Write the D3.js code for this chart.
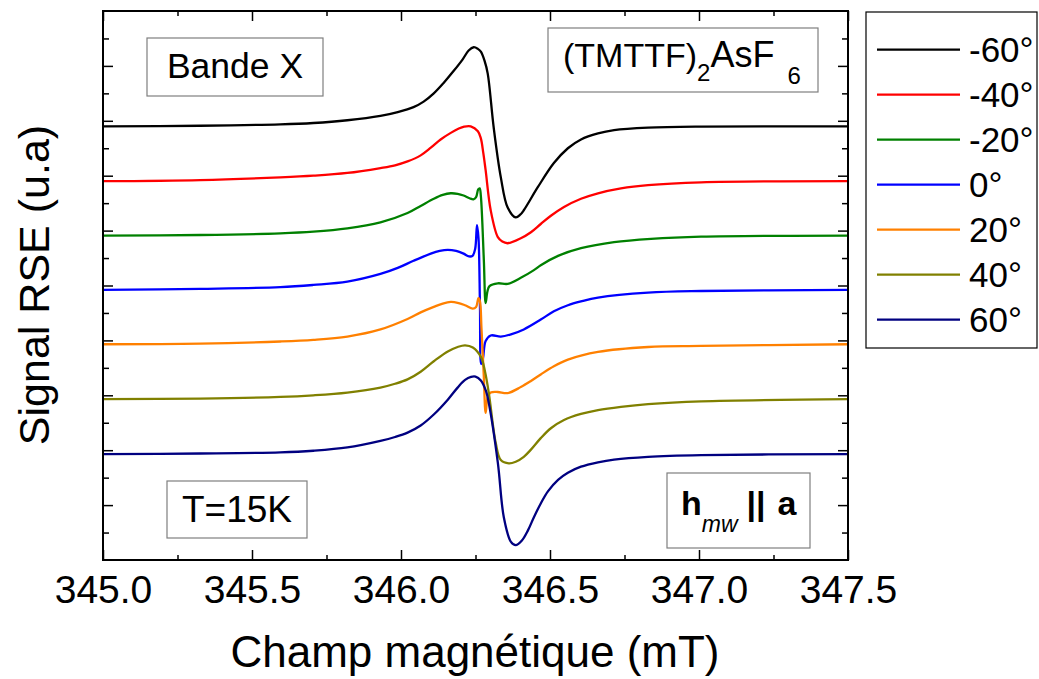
<!DOCTYPE html>
<html>
<head>
<meta charset="utf-8">
<script src="https://cdn.jsdelivr.net/npm/d3@7"></script>
<style>
    body { margin: 0; background: #fff; }
    text { font-family: "Liberation Sans", Arial, sans-serif; fill: #000; }
    .box { fill: #fff; stroke: #7f7f7f; stroke-width: 1.2; }
    .tick line { stroke: #000; stroke-width: 1.5; }
</style>
</head>
<body>
<script>
//angle labels of the series (legend order)
var angles = ["-60°", "-40°", "-20°", "0°", "20°", "40°", "60°"];
var colors = ["#000000", "#ff0000", "#008000", "#0000ff", "#ff8000", "#808000", "#000080"];
//vertical offset of each spectrum (u.a)
var offsets = [7.90, 6.90, 5.91, 4.92, 3.93, 2.93, 1.93];

//x ticks (mT)
var xTicks = [345.0, 345.5, 346.0, 346.5, 347.0, 347.5];

//spectra: [champ (mT), signal relative to baseline]
var sigM60 = [[345.000, 0], [345.326, 0.01], [345.595, 0.035], [345.706, 0.06], [345.820, 0.11],
    [345.931, 0.19], [345.989, 0.26], [346.042, 0.35], [346.076, 0.45], [346.110, 0.60],
    [346.143, 0.79], [346.177, 1.01], [346.207, 1.22], [346.227, 1.38], [346.244, 1.44],
    [346.258, 1.41], [346.268, 1.36], [346.280, 1.20], [346.291, 0.96], [346.311, -0.02],
    [346.335, -0.93], [346.358, -1.48], [346.385, -1.66], [346.400, -1.61], [346.412, -1.53],
    [346.459, -1.11], [346.513, -0.67], [346.560, -0.40], [346.604, -0.24], [346.661, -0.13],
    [346.715, -0.07], [346.829, -0.025], [347.007, -0.005], [347.500, 0]];
var sigM40 = [[345.000, 0], [345.326, 0.02], [345.595, 0.07], [345.706, 0.10], [345.820, 0.15],
    [345.931, 0.24], [345.980, 0.29], [346.022, 0.36], [346.066, 0.47], [346.100, 0.61],
    [346.133, 0.76], [346.167, 0.88], [346.194, 0.96], [346.212, 0.995], [346.234, 1.00],
    [346.258, 0.91], [346.268, 0.78], [346.276, 0.52], [346.284, 0.20], [346.301, -0.53],
    [346.325, -1.02], [346.340, -1.10], [346.358, -1.13], [346.402, -1.04], [346.436, -0.93],
    [346.469, -0.78], [346.503, -0.63], [346.547, -0.47], [346.604, -0.32], [346.661, -0.22],
    [346.738, -0.13], [346.829, -0.07], [347.007, -0.02], [347.500, 0]];
var sigM20 = [[345.000, 0], [345.326, 0.01], [345.595, 0.04], [345.706, 0.07], [345.820, 0.13],
    [345.931, 0.24], [346.022, 0.41], [346.066, 0.54], [346.110, 0.67], [346.140, 0.74],
    [346.167, 0.77], [346.190, 0.76], [346.210, 0.73], [346.230, 0.68], [346.243, 0.66],
    [346.252, 0.70], [346.259, 0.84], [346.264, 0.86], [346.268, 0.72], [346.278, -0.45],
    [346.284, -1.23], [346.290, -1.02], [346.297, -0.92], [346.325, -0.87], [346.358, -0.88],
    [346.402, -0.77], [346.446, -0.63], [346.469, -0.54], [346.527, -0.37], [346.604, -0.23],
    [346.715, -0.12], [346.839, -0.06], [347.007, -0.02], [347.500, 0]];
var sig0 = [[345.000, 0], [345.326, 0.02], [345.595, 0.05], [345.706, 0.09], [345.820, 0.15],
    [345.931, 0.29], [345.989, 0.40], [346.042, 0.53], [346.100, 0.66], [346.130, 0.71],
    [346.157, 0.73], [346.185, 0.71], [346.210, 0.66], [346.228, 0.61], [346.240, 0.62],
    [346.249, 0.75], [346.255, 1.18], [346.260, 0.95], [346.265, -0.30], [346.269, -1.35],
    [346.275, -1.25], [346.284, -0.93], [346.301, -0.83], [346.335, -0.85], [346.369, -0.81],
    [346.412, -0.72], [346.469, -0.54], [346.513, -0.39], [346.560, -0.28], [346.604, -0.21],
    [346.661, -0.14], [346.829, -0.05], [347.007, -0.02], [347.500, 0]];
var sigP20 = [[345.000, 0], [345.326, 0.01], [345.595, 0.05], [345.706, 0.08], [345.820, 0.14],
    [345.931, 0.27], [346.022, 0.46], [346.066, 0.58], [346.110, 0.68], [346.140, 0.74],
    [346.167, 0.77], [346.190, 0.755], [346.215, 0.71], [346.241, 0.65], [346.252, 0.68],
    [346.260, 0.84], [346.265, 0.78], [346.270, 0.30], [346.278, -0.60], [346.284, -1.25],
    [346.291, -0.96], [346.301, -0.88], [346.325, -0.87], [346.358, -0.89], [346.402, -0.78],
    [346.436, -0.67], [346.469, -0.55], [346.513, -0.40], [346.560, -0.28], [346.661, -0.14],
    [346.829, -0.05], [347.007, -0.03], [347.500, 0]];
var sigP40 = [[345.000, 0], [345.326, 0.01], [345.595, 0.04], [345.706, 0.07], [345.820, 0.12],
    [345.931, 0.21], [345.980, 0.28], [346.022, 0.36], [346.066, 0.50], [346.110, 0.69],
    [346.157, 0.87], [346.190, 0.95], [346.215, 0.98], [346.241, 0.94], [346.268, 0.77],
    [346.282, 0.50], [346.295, 0.10], [346.318, -0.80], [346.335, -1.11], [346.362, -1.17],
    [346.385, -1.14], [346.412, -1.05], [346.436, -0.92], [346.469, -0.71], [346.503, -0.53],
    [346.547, -0.38], [346.604, -0.27], [346.661, -0.20], [346.738, -0.14], [346.829, -0.09],
    [347.007, -0.04], [347.500, 0]];
var sigP60 = [[345.000, 0], [345.326, 0.01], [345.595, 0.03], [345.706, 0.06], [345.820, 0.12],
    [345.931, 0.24], [345.980, 0.31], [346.022, 0.39], [346.066, 0.52], [346.110, 0.72],
    [346.157, 0.99], [346.190, 1.21], [346.215, 1.35], [346.235, 1.405], [346.250, 1.41],
    [346.268, 1.34], [346.285, 1.15], [346.295, 0.92], [346.325, -0.16], [346.345, -1.15],
    [346.369, -1.60], [346.385, -1.66], [346.405, -1.58], [346.426, -1.39], [346.446, -1.15],
    [346.469, -0.90], [346.493, -0.68], [346.527, -0.47], [346.560, -0.34], [346.604, -0.23],
    [346.661, -0.15], [346.715, -0.10], [346.829, -0.05], [347.007, -0.02], [347.500, 0]];

var spectra = [sigM60, sigM40, sigM20, sig0, sigP20, sigP40, sigP60];

window.onload = drawChart();

function drawChart(){
    var width = 1039,
        height = 679;

    var svg = d3.select("body")
        .append("svg")
        .attr("width", width)
        .attr("height", height);

    //plot frame
    var left = 103, right = 848, top = 11, bottom = 560;

    var x = d3.scaleLinear()
        .domain([345.0, 347.5])
        .range([left, right]);
    var y = d3.scaleLinear()
        .domain([0, 10])
        .range([bottom, top]);

    //minor tick positions
    var xMinor = xTicks.slice(0, -1).map(function(d){ return d + 0.25; });
    var yMajor = d3.range(1, 10);
    var yMinor = d3.range(0, 10).map(function(d){ return d + 0.5; });

    //bottom axis with labels, ticks pointing in
    var bottomAxis = svg.append("g")
        .attr("transform", "translate(0," + bottom + ")")
        .call(d3.axisBottom(x).tickValues(xTicks).tickSize(-10).tickFormat(d3.format(".1f")));
    bottomAxis.selectAll("text")
        .attr("y", 43)
        .attr("dy", null)
        .style("font-size", "39px");
    svg.append("g")
        .attr("transform", "translate(0," + bottom + ")")
        .call(d3.axisBottom(x).tickValues(xMinor).tickSize(-5).tickFormat(""));

    //top axis, no labels
    svg.append("g")
        .attr("transform", "translate(0," + top + ")")
        .call(d3.axisTop(x).tickValues(xTicks).tickSize(-10).tickFormat(""));
    svg.append("g")
        .attr("transform", "translate(0," + top + ")")
        .call(d3.axisTop(x).tickValues(xMinor).tickSize(-5).tickFormat(""));

    //left and right axes, no labels
    svg.append("g")
        .attr("transform", "translate(" + left + ",0)")
        .call(d3.axisLeft(y).tickValues(yMajor).tickSize(-10).tickFormat(""));
    svg.append("g")
        .attr("transform", "translate(" + left + ",0)")
        .call(d3.axisLeft(y).tickValues(yMinor).tickSize(-6).tickFormat(""));
    svg.append("g")
        .attr("transform", "translate(" + right + ",0)")
        .call(d3.axisRight(y).tickValues(yMajor).tickSize(-10).tickFormat(""));
    svg.append("g")
        .attr("transform", "translate(" + right + ",0)")
        .call(d3.axisRight(y).tickValues(yMinor).tickSize(-6).tickFormat(""));

    svg.selectAll(".domain").remove();

    //spectra
    var line = d3.line()
        .curve(d3.curveCatmullRom.alpha(0.5));

    svg.selectAll(".spectrum")
        .data(spectra)
        .enter()
        .append("path")
        .attr("class", "spectrum")
        .attr("fill", "none")
        .attr("stroke", function(d, i){ return colors[i]; })
        .attr("stroke-width", 2.3)
        .attr("stroke-linejoin", "round")
        .attr("d", function(d, i){
            return line(d.map(function(p){ return [x(p[0]), y(p[1] + offsets[i])]; }));
        });

    //frame on top
    svg.append("rect")
        .attr("x", left)
        .attr("y", top)
        .attr("width", right - left)
        .attr("height", bottom - top)
        .attr("fill", "none")
        .attr("stroke", "#000")
        .attr("stroke-width", 2);

    //annotation boxes
    svg.append("rect").attr("class", "box")
        .attr("x", 147).attr("y", 38).attr("width", 176).attr("height", 58);
    svg.append("text")
        .attr("x", 235).attr("y", 78)
        .attr("text-anchor", "middle")
        .style("font-size", "35.5px")
        .text("Bande X");

    svg.append("rect").attr("class", "box")
        .attr("x", 548).attr("y", 28).attr("width", 270).attr("height", 64);
    var formula = svg.append("text")
        .attr("x", 563).attr("y", 67)
        .style("font-size", "34px");
    formula.append("tspan").text("(TMTTF)");
    formula.append("tspan").attr("dy", 14).style("font-size", "24px").text("2");
    formula.append("tspan").attr("dy", -14).style("font-size", "36px").text("AsF");
    formula.append("tspan").attr("dy", 17).attr("dx", 13).style("font-size", "24px").text("6");

    svg.append("rect").attr("class", "box")
        .attr("x", 167).attr("y", 481).attr("width", 140).attr("height", 57);
    svg.append("text")
        .attr("x", 237).attr("y", 522)
        .attr("text-anchor", "middle")
        .style("font-size", "37px")
        .text("T=15K");

    svg.append("rect").attr("class", "box")
        .attr("x", 667).attr("y", 473).attr("width", 143).attr("height", 75);
    var hmw = svg.append("text")
        .attr("x", 681).attr("y", 515)
        .style("font-size", "34px");
    hmw.append("tspan").style("font-weight", "bold").text("h");
    hmw.append("tspan").attr("dy", 17).style("font-style", "italic").style("font-size", "23px").text("mw");
    hmw.append("tspan").attr("dy", -17).attr("dx", 9).style("font-weight", "bold").text("||");
    hmw.append("tspan").attr("dx", 12).style("font-weight", "bold").text("a");

    //legend
    svg.append("rect")
        .attr("x", 866).attr("y", 12).attr("width", 171).attr("height", 336)
        .attr("fill", "#fff").attr("stroke", "#000").attr("stroke-width", 1.2);
    var legend = svg.selectAll(".legend")
        .data(angles)
        .enter()
        .append("g")
        .attr("class", "legend")
        .attr("transform", function(d, i){ return "translate(0," + (49.7 + i * 45) + ")"; });
    legend.append("line")
        .attr("x1", 877).attr("x2", 960)
        .attr("stroke", function(d, i){ return colors[i]; })
        .attr("stroke-width", 2.3);
    legend.append("text")
        .attr("x", 969).attr("y", 12)
        .style("font-size", "35px")
        .text(function(d){ return d; });

    //axis titles
    svg.append("text")
        .attr("x", 475).attr("y", 667)
        .attr("text-anchor", "middle")
        .style("font-size", "44px")
        .text("Champ magnétique (mT)");
    svg.append("text")
        .attr("transform", "translate(49,285) rotate(-90)")
        .attr("text-anchor", "middle")
        .style("font-size", "43px")
        .text("Signal RSE (u.a)");
};
</script>
</body>
</html>
